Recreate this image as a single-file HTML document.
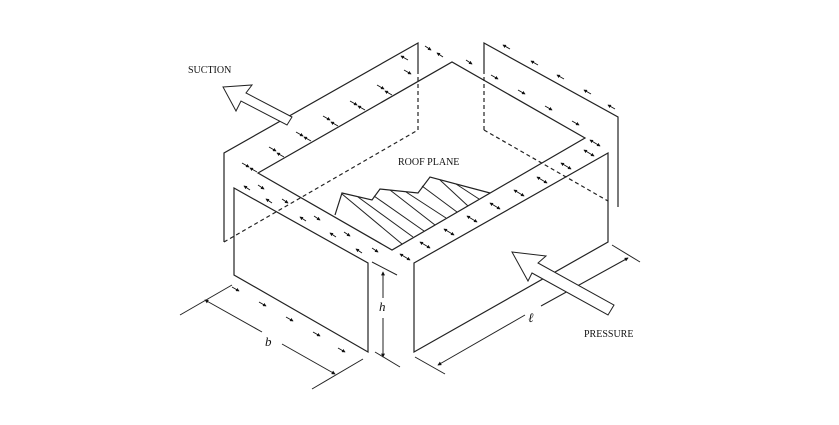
<!DOCTYPE html>
<html><head><meta charset="utf-8"><style>
html,body{margin:0;padding:0;background:#fff;}
svg{display:block;}
text{font-family:"Liberation Serif",serif;fill:#111;}
</style></head><body>
<svg width="839" height="425" viewBox="0 0 839 425" xmlns="http://www.w3.org/2000/svg">
<defs>
<marker id="a" viewBox="0 0 6 6" refX="5" refY="3" markerWidth="4" markerHeight="4" orient="auto"><path d="M0,0 L6,3 L0,6 z" fill="#111"/></marker>
<marker id="s" viewBox="0 0 6 6" refX="1" refY="3" markerWidth="4" markerHeight="4" orient="auto"><path d="M6,0 L0,3 L6,6 z" fill="#111"/></marker>
</defs>
<g stroke="#222" stroke-width="1.2" fill="none">
<!-- back-left wall -->
<polyline points="224,242 224,153 418,43 418,70"/>
<line x1="418" y1="70" x2="418" y2="130" stroke-dasharray="4,3"/>
<line x1="224" y1="242" x2="418" y2="130" stroke-dasharray="4,3"/>
<!-- back-right wall -->
<polyline points="484,70 484,43 618,117 618,207"/>
<line x1="484" y1="70" x2="484" y2="130" stroke-dasharray="4,3"/>
<line x1="484" y1="130" x2="608" y2="201" stroke-dasharray="4,3"/>
<!-- roof -->
<polygon points="258,173 452,62 585,138 392,250"/>
<!-- front-left wall -->
<polygon points="234,188 368,263 368,352 234,275"/>
<!-- front-right wall -->
<polygon points="414,263 608,153 608,242 414,352"/>
<!-- hatched region -->
<polyline points="335,215 342,193 372,200 380,189 418,193 430,177 490,193"/>
<g stroke-width="1">
<line x1="342" y1="194" x2="402" y2="244"/>
<line x1="358" y1="197" x2="413" y2="237"/>
<line x1="374" y1="196" x2="424" y2="231"/>
<line x1="390" y1="190" x2="435" y2="225"/>
<line x1="406" y1="192" x2="446" y2="218"/>
<line x1="422" y1="186" x2="457" y2="212"/>
<line x1="440" y1="180" x2="468" y2="206"/>
<line x1="456" y1="184" x2="479" y2="199"/>
</g>
<!-- dimensions -->
<g stroke-width="1">
<line x1="205" y1="300" x2="262" y2="332" marker-start="url(#s)"/>
<line x1="282" y1="344" x2="335" y2="374" marker-end="url(#a)"/>
<line x1="180" y1="315" x2="232" y2="285"/>
<line x1="312" y1="389" x2="363" y2="359"/>
<line x1="383" y1="272" x2="383" y2="298" marker-start="url(#s)"/>
<line x1="383" y1="318" x2="383" y2="357" marker-end="url(#a)"/>
<line x1="372" y1="262" x2="397" y2="275"/>
<line x1="375" y1="352" x2="400" y2="367"/>
<line x1="438" y1="365" x2="525" y2="315" marker-start="url(#s)"/>
<line x1="541" y1="306" x2="628" y2="258" marker-end="url(#a)"/>
<line x1="415" y1="357" x2="445" y2="374"/>
<line x1="612" y1="245" x2="640" y2="262"/>
</g>
<!-- suction arrow -->
<polygon points="223,87 252,85 246,93 292,117 287,125 241,101 236,111" fill="#fff" stroke-width="1"/>
<!-- pressure arrow -->
<polygon points="512,252 546,256 538,263 614,305 608,315 532,273 528,281" fill="#fff" stroke-width="1"/>
</g>
<g stroke="#111" stroke-width="0.9">
<line x1="242" y1="163" x2="249" y2="167" marker-end="url(#a)"/><line x1="257" y1="172" x2="250" y2="168" marker-end="url(#a)"/>
<line x1="269" y1="147" x2="276" y2="151" marker-end="url(#a)"/><line x1="284" y1="157" x2="277" y2="153" marker-end="url(#a)"/>
<line x1="296" y1="132" x2="303" y2="136" marker-end="url(#a)"/><line x1="311" y1="141" x2="304" y2="137" marker-end="url(#a)"/>
<line x1="323" y1="116" x2="330" y2="120" marker-end="url(#a)"/><line x1="338" y1="126" x2="331" y2="122" marker-end="url(#a)"/>
<line x1="350" y1="101" x2="357" y2="105" marker-end="url(#a)"/><line x1="365" y1="110" x2="358" y2="106" marker-end="url(#a)"/>
<line x1="377" y1="85" x2="384" y2="89" marker-end="url(#a)"/><line x1="392" y1="95" x2="385" y2="91" marker-end="url(#a)"/>
<line x1="404" y1="70" x2="411" y2="74" marker-end="url(#a)"/><line x1="408" y1="60" x2="401" y2="56" marker-end="url(#a)"/>
<line x1="258" y1="185" x2="264" y2="189" marker-end="url(#a)"/><line x1="250" y1="190" x2="244" y2="186" marker-end="url(#a)"/>
<line x1="282" y1="199" x2="288" y2="203" marker-end="url(#a)"/><line x1="272" y1="203" x2="266" y2="199" marker-end="url(#a)"/>
<line x1="314" y1="216" x2="320" y2="220" marker-end="url(#a)"/><line x1="306" y1="221" x2="300" y2="217" marker-end="url(#a)"/>
<line x1="344" y1="232" x2="350" y2="236" marker-end="url(#a)"/><line x1="336" y1="237" x2="330" y2="233" marker-end="url(#a)"/>
<line x1="372" y1="248" x2="378" y2="252" marker-end="url(#a)"/><line x1="362" y1="253" x2="356" y2="249" marker-end="url(#a)"/>
<line x1="425" y1="46" x2="431" y2="50" marker-end="url(#a)"/><line x1="443" y1="57" x2="437" y2="53" marker-end="url(#a)"/>
<line x1="466" y1="60" x2="472" y2="64" marker-end="url(#a)"/>
<line x1="510" y1="49" x2="503" y2="45" marker-end="url(#a)"/><line x1="538" y1="65" x2="531" y2="61" marker-end="url(#a)"/>
<line x1="564" y1="79" x2="557" y2="75" marker-end="url(#a)"/><line x1="591" y1="94" x2="584" y2="90" marker-end="url(#a)"/>
<line x1="615" y1="109" x2="608" y2="105" marker-end="url(#a)"/>
<line x1="491" y1="75" x2="498" y2="79" marker-end="url(#a)"/><line x1="518" y1="90" x2="525" y2="94" marker-end="url(#a)"/>
<line x1="545" y1="106" x2="552" y2="110" marker-end="url(#a)"/><line x1="572" y1="121" x2="579" y2="125" marker-end="url(#a)"/>
<line x1="400" y1="254" x2="410" y2="260" marker-start="url(#s)" marker-end="url(#a)"/>
<line x1="420" y1="242" x2="430" y2="248" marker-start="url(#s)" marker-end="url(#a)"/>
<line x1="444" y1="229" x2="454" y2="235" marker-start="url(#s)" marker-end="url(#a)"/>
<line x1="467" y1="216" x2="477" y2="222" marker-start="url(#s)" marker-end="url(#a)"/>
<line x1="490" y1="203" x2="500" y2="209" marker-start="url(#s)" marker-end="url(#a)"/>
<line x1="514" y1="190" x2="524" y2="196" marker-start="url(#s)" marker-end="url(#a)"/>
<line x1="537" y1="177" x2="547" y2="183" marker-start="url(#s)" marker-end="url(#a)"/>
<line x1="561" y1="163" x2="571" y2="169" marker-start="url(#s)" marker-end="url(#a)"/>
<line x1="584" y1="150" x2="594" y2="156" marker-start="url(#s)" marker-end="url(#a)"/>
<line x1="590" y1="140" x2="600" y2="146" marker-start="url(#s)" marker-end="url(#a)"/>
<line x1="232" y1="287" x2="239" y2="291" marker-end="url(#a)"/>
<line x1="259" y1="302" x2="266" y2="306" marker-end="url(#a)"/>
<line x1="286" y1="317" x2="293" y2="321" marker-end="url(#a)"/>
<line x1="313" y1="332" x2="320" y2="336" marker-end="url(#a)"/>
<line x1="338" y1="348" x2="345" y2="352" marker-end="url(#a)"/>
</g>
<text x="188" y="73" font-size="10">SUCTION</text>
<text x="398" y="165" font-size="10">ROOF PLANE</text>
<text x="584" y="337" font-size="10">PRESSURE</text>
<text x="265" y="346" font-size="13" font-style="italic">b</text>
<text x="379" y="311" font-size="13" font-style="italic">h</text>
<text x="528" y="322" font-size="13" font-style="italic">ℓ</text>
</svg>
</body></html>
